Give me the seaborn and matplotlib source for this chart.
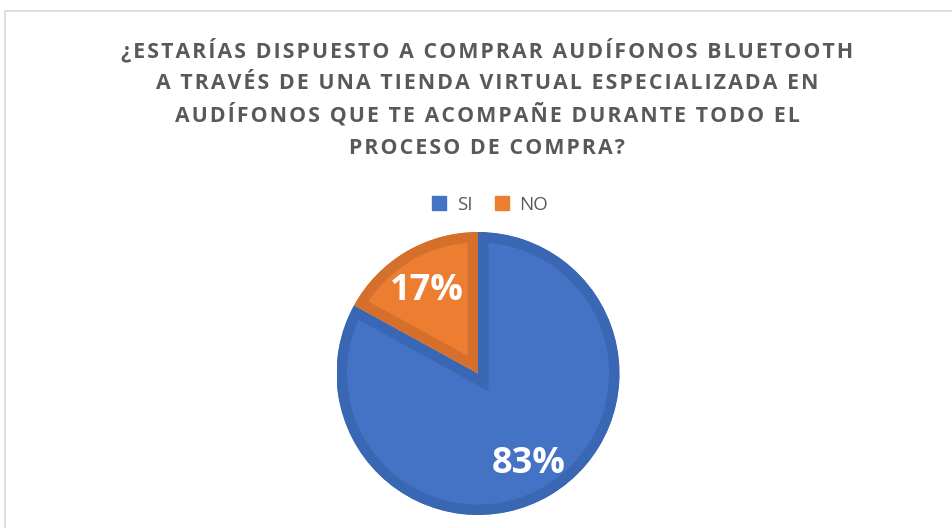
import seaborn as sns
import matplotlib.pyplot as plt
from matplotlib.patches import Rectangle
from matplotlib.lines import Line2D

labels = ['SI', 'NO']
values = [83, 17]
colors = ['#4472C4', '#ED7D31']
edge_colors = ['#3A67B3', '#D4702C']

title_lines = ['¿ESTARÍAS DISPUESTO A COMPRAR AUDÍFONOS BLUETOOTH',
               'A TRAVÉS DE UNA TIENDA VIRTUAL ESPECIALIZADA EN',
               'AUDÍFONOS QUE TE ACOMPAÑE DURANTE TODO EL',
               'PROCESO DE COMPRA?']

sns.set_theme(style='white')
plt.rcParams['font.family'] = ['Open Sans', 'DejaVu Sans']

W, H = 952, 528
fig = plt.figure(figsize=(W / 100, H / 100), dpi=100)

# chart frame like the spreadsheet export
fig.patches.append(Rectangle((5 / W, -0.1), 1.2, (H - 11) / H + 0.1,
                             transform=fig.transFigure, fill=False,
                             edgecolor='#D9D9D9', linewidth=1.2))

cx, cy, r = 478, 373.5, 141.5
ax = fig.add_axes([(cx - r) / W, (H - cy - r) / H, 2 * r / W, 2 * r / H])
wedges, texts, autotexts = ax.pie(
    values, colors=colors, startangle=90, counterclock=False,
    autopct='%1.0f%%', pctdistance=0.71,
    textprops={'color': 'white', 'fontsize': 26, 'fontweight': 'bold'},
    wedgeprops={'linewidth': 15},
)
# darker inner border: stroke clipped to each wedge
for w, ec in zip(wedges, edge_colors):
    w.set_edgecolor(ec)
    w.set_clip_on(True)
    w.set_clip_path(w)
# labels sit a touch lower in the original
for t in autotexts:
    x, y = t.get_position()
    t.set_position((x, y - 0.03))
ax.set_xlim(-1, 1)
ax.set_ylim(-1, 1)
ax.set_aspect('equal')
ax.axis('off')

# title with a little letter spacing (hair spaces between characters)
for line, base in zip(title_lines, [57, 89, 121.5, 153.5]):
    fig.text(487 / W, 1 - base / H, '\u200a'.join(line), ha='center',
             va='baseline', fontsize=15.3, fontweight='bold', color='#595959')

handles = [Line2D([0], [0], marker='s', linestyle='', markersize=9.5,
                  markerfacecolor=c, markeredgecolor=c) for c in colors]
fig.legend(handles, labels, loc='center', bbox_to_anchor=(488 / W, 1 - 204.5 / H),
           ncol=2, frameon=False, fontsize=13.5, handletextpad=0.33,
           columnspacing=0.97, handlelength=1.2, labelcolor='#595959')

fig.savefig('out.png', dpi=100)
